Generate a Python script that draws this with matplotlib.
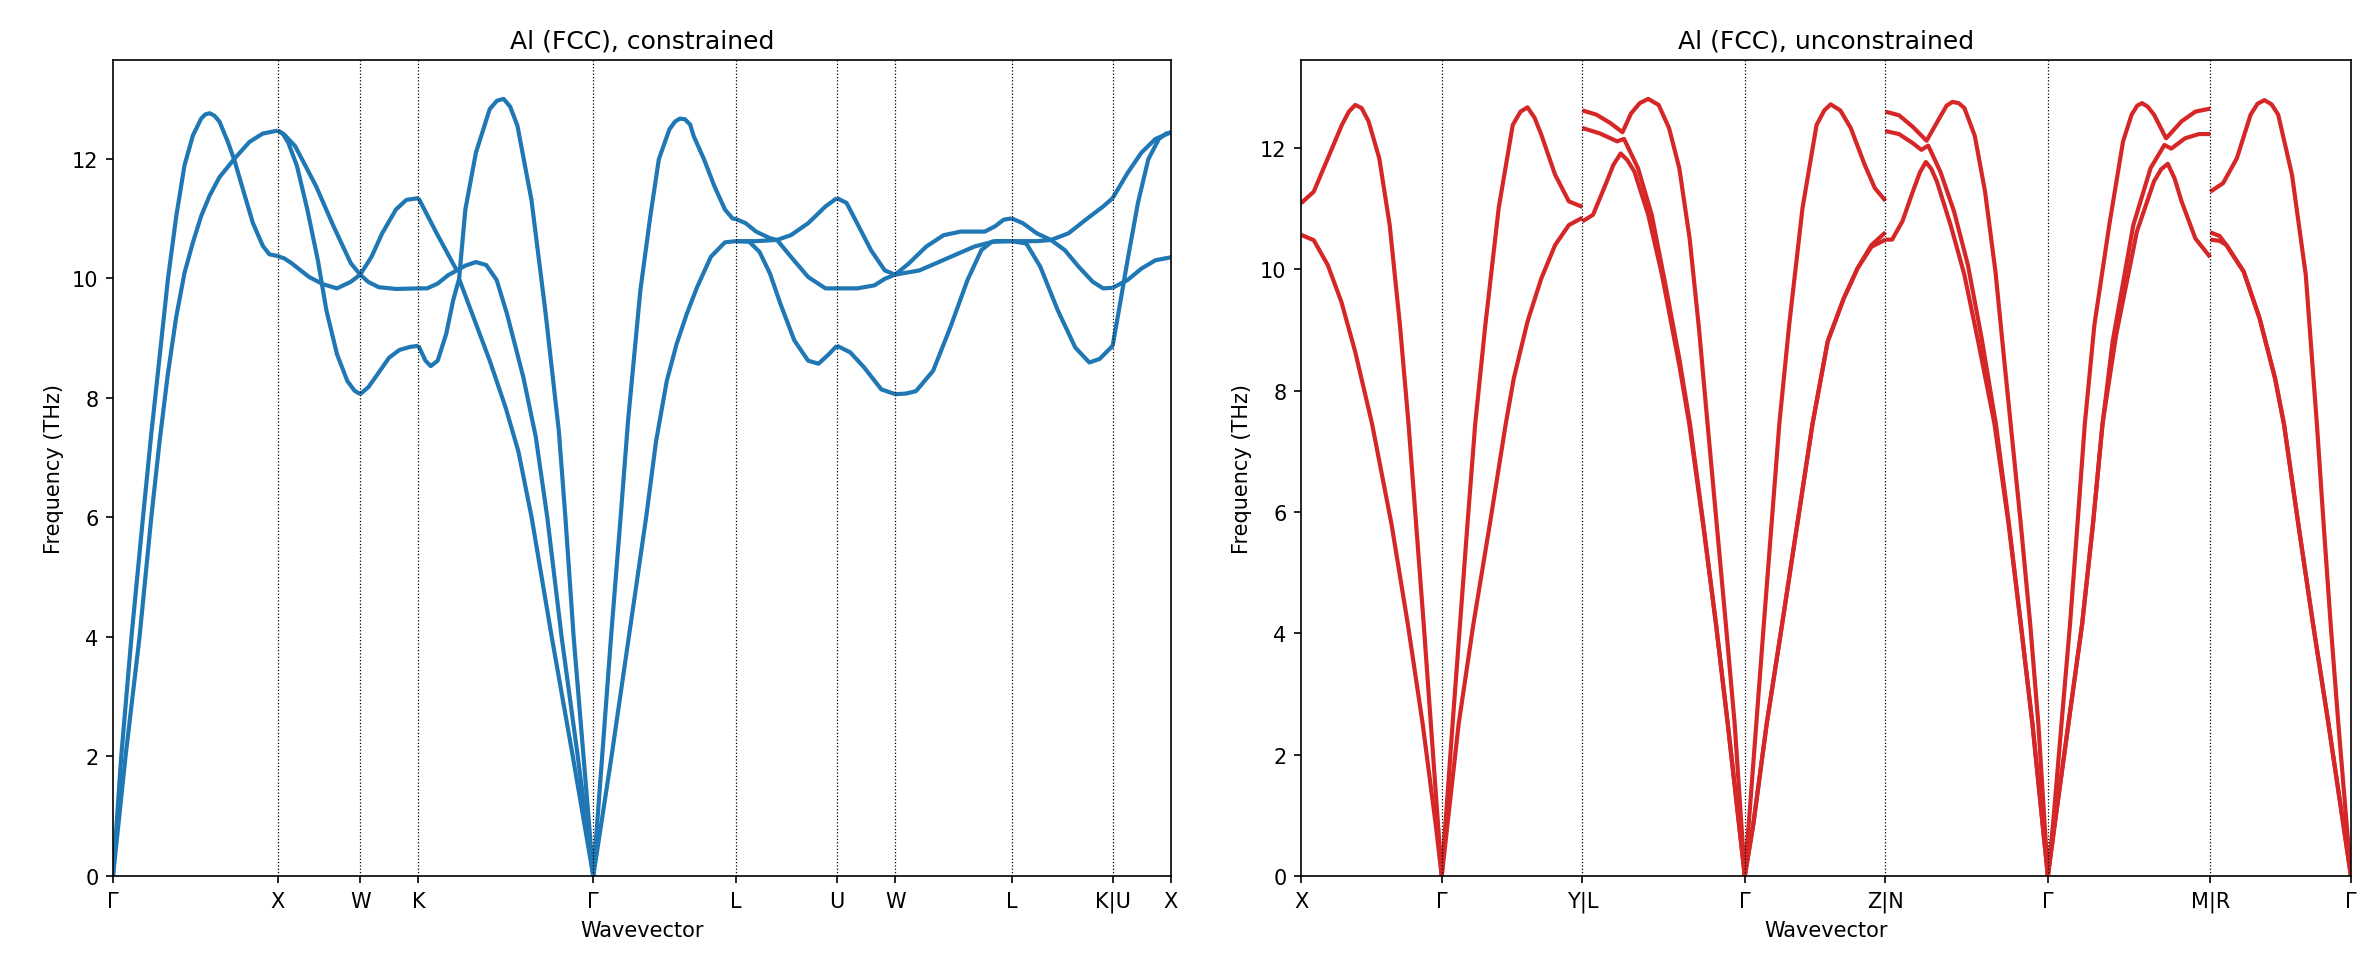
import matplotlib
matplotlib.use("Agg")
import matplotlib.pyplot as plt

# ---------------- left panel: Al (FCC), constrained ----------------
left_ticks = [0.0, 1.0, 1.5, 1.8536, 2.9142, 3.7802, 4.3926, 4.7462, 5.4533, 6.0657, 6.4193]
left_labels = ["Γ", "X", "W", "K", "Γ", "L", "U", "W", "L", "K|U", "X"]

# each entry: (wavevector, frequency in THz)
left_gx = [
    ([0.0, 0.05, 0.112, 0.182, 0.232, 0.283, 0.333, 0.384, 0.434, 0.485, 0.535, 0.56, 0.586, 0.615,
      0.646, 0.697, 0.737, 0.788, 0.848, 0.909, 0.949, 1.0],
     [0.0, 2.0, 4.0, 6.0, 7.39, 8.69, 9.98, 11.04, 11.89, 12.39, 12.67, 12.74, 12.76, 12.72,
      12.62, 12.28, 11.97, 11.49, 10.93, 10.54, 10.40, 10.37]),
    ([0.0, 0.076, 0.161, 0.232, 0.283, 0.333, 0.384, 0.434, 0.485, 0.535, 0.586, 0.646, 0.737, 0.828,
      0.909, 1.0],
     [0.0, 2.0, 4.0, 5.99, 7.28, 8.40, 9.36, 10.09, 10.6, 11.04, 11.38, 11.69, 12.0, 12.28,
      12.42, 12.47]),
]
left_xw = [
    ([1.0, 1.03, 1.063, 1.116, 1.179, 1.243, 1.295, 1.359, 1.422, 1.465, 1.5],
     [12.47, 12.42, 12.27, 11.88, 11.15, 10.30, 9.46, 8.73, 8.28, 8.12, 8.06]),
    ([1.0, 1.04, 1.105, 1.232, 1.338, 1.443, 1.5],
     [12.47, 12.4, 12.21, 11.54, 10.87, 10.25, 10.06]),
    ([1.0, 1.04, 1.084, 1.19, 1.274, 1.359, 1.443, 1.5],
     [10.37, 10.33, 10.25, 10.02, 9.9, 9.83, 9.94, 10.06]),
]
left_wk = [
    ([1.5, 1.55, 1.612, 1.675, 1.738, 1.801, 1.8536],
     [8.06, 8.18, 8.42, 8.67, 8.80, 8.85, 8.87]),
    ([1.5, 1.569, 1.633, 1.717, 1.78, 1.8536],
     [10.06, 10.36, 10.75, 11.15, 11.31, 11.34]),
    ([1.5, 1.548, 1.612, 1.717, 1.8536],
     [10.06, 9.94, 9.85, 9.82, 9.83]),
]
left_kg = [
    ([1.8536, 1.97, 2.086],
     [11.34, 10.72, 10.13]),
    ([1.8536, 1.906, 1.97, 2.033, 2.086, 2.138, 2.202, 2.265, 2.328, 2.391, 2.49, 2.565, 2.635, 2.722,
      2.82, 2.9142],
     [9.83, 9.83, 9.91, 10.05, 10.13, 10.21, 10.27, 10.22, 9.97, 9.40, 8.34, 7.35, 6.0, 4.0,
      2.0, 0.0]),
    ([1.8536, 1.896, 1.928, 1.97, 2.022, 2.064, 2.1, 2.18, 2.286, 2.383, 2.46, 2.54, 2.662, 2.79,
      2.9142],
     [8.87, 8.62, 8.53, 8.62, 9.07, 9.63, 9.99, 9.40, 8.62, 7.83, 7.1, 6.0, 4.0, 2.0, 0.0]),
    ([2.1, 2.138, 2.202, 2.286, 2.33, 2.37, 2.41, 2.454, 2.539, 2.623, 2.705, 2.745, 2.795, 2.855,
      2.9142],
     [9.99, 11.15, 12.1, 12.83, 12.97, 13.0, 12.87, 12.55, 11.31, 9.46, 7.45, 6.0, 4.0, 2.0, 0.0]),
]
left_gl = [
    ([2.9142, 2.968, 3.022, 3.08, 3.125, 3.2, 3.26, 3.312, 3.376, 3.41, 3.439, 3.47, 3.502, 3.523,
      3.586, 3.649, 3.713, 3.759, 3.7802],
     [0.0, 2.0, 4.0, 6.0, 7.61, 9.8, 11.03, 11.99, 12.49, 12.62, 12.67, 12.66, 12.57, 12.38,
      11.99, 11.54, 11.15, 11.0, 10.99]),
    ([2.9142, 3.025, 3.13, 3.235, 3.295, 3.36, 3.42, 3.481, 3.544, 3.628, 3.713, 3.7802],
     [0.0, 2.0, 4.0, 6.0, 7.27, 8.28, 8.9, 9.4, 9.85, 10.36, 10.6, 10.62]),
]
left_lu = [
    ([3.7802, 3.839, 3.902, 3.986, 4.029, 4.113, 4.218, 4.323, 4.3926],
     [10.99, 10.92, 10.78, 10.67, 10.64, 10.36, 10.02, 9.83, 9.83]),
    ([3.7802, 3.902, 4.029, 4.113, 4.218, 4.323, 4.3926],
     [10.62, 10.62, 10.64, 10.72, 10.92, 11.2, 11.34]),
    ([3.7802, 3.86, 3.923, 3.986, 4.05, 4.134, 4.218, 4.281, 4.344, 4.3926],
     [10.62, 10.61, 10.44, 10.08, 9.57, 8.96, 8.62, 8.57, 8.73, 8.87]),
]
left_uw = [
    ([4.3926, 4.451, 4.515, 4.599, 4.683, 4.7462],
     [11.34, 11.26, 10.92, 10.47, 10.13, 10.06]),
    ([4.3926, 4.515, 4.62, 4.683, 4.7462],
     [9.83, 9.83, 9.88, 9.99, 10.06]),
    ([4.3926, 4.473, 4.557, 4.662, 4.7462],
     [8.87, 8.76, 8.51, 8.14, 8.06]),
]
left_wl = [
    ([4.7462, 4.83, 4.935, 5.04, 5.144, 5.29, 5.353, 5.405, 5.4533],
     [10.06, 10.25, 10.53, 10.72, 10.78, 10.78, 10.87, 10.98, 11.0]),
    ([4.7462, 4.893, 5.06, 5.227, 5.353, 5.4533],
     [10.06, 10.13, 10.33, 10.53, 10.62, 10.62]),
    ([4.7462, 4.81, 4.872, 4.976, 5.081, 5.185, 5.269, 5.332, 5.4533],
     [8.06, 8.07, 8.11, 8.45, 9.18, 9.97, 10.47, 10.61, 10.62]),
]
left_lk = [
    ([5.4533, 5.521, 5.606, 5.691, 5.775, 5.86, 5.945, 6.008, 6.0657],
     [11.0, 10.92, 10.75, 10.64, 10.47, 10.19, 9.94, 9.83, 9.84]),
    ([5.4533, 5.606, 5.691, 5.797, 5.903, 6.008, 6.0657],
     [10.62, 10.62, 10.64, 10.75, 10.98, 11.2, 11.34]),
    ([5.4533, 5.542, 5.627, 5.733, 5.839, 5.924, 5.987, 6.0657],
     [10.62, 10.58, 10.19, 9.46, 8.84, 8.59, 8.65, 8.87]),
]
left_ux = [
    ([6.0657, 6.156, 6.24, 6.325, 6.4193],
     [11.34, 11.76, 12.1, 12.33, 12.44]),
    ([6.0657, 6.114, 6.156, 6.219, 6.282, 6.346, 6.39, 6.4193],
     [8.87, 9.63, 10.3, 11.26, 11.99, 12.33, 12.42, 12.44]),
    ([6.0657, 6.156, 6.24, 6.325, 6.4193],
     [9.84, 9.97, 10.16, 10.3, 10.35]),
]

# ---------------- right panel: Al (FCC), unconstrained ----------------
right_ticks = [0.0, 1.0, 2.0, 3.1547, 4.1547, 5.3094, 6.4641, 7.4641]
right_labels = ["X", "Γ", "Y|L", "Γ", "Z|N", "Γ", "M|R", "Γ"]

right_xg = [
    ([0.0, 0.09, 0.19, 0.29, 0.34, 0.385, 0.43, 0.48, 0.556, 0.63, 0.703, 0.764, 0.872, 1.0],
     [11.09, 11.28, 11.83, 12.38, 12.6, 12.71, 12.66, 12.44, 11.83, 10.73, 9.08, 7.45, 4.15, 0.0]),
    ([0.0, 0.09, 0.19, 0.287, 0.385, 0.505, 0.643, 0.759, 0.865, 0.957, 1.0],
     [10.57, 10.48, 10.07, 9.46, 8.64, 7.45, 5.8, 4.15, 2.5, 0.85, 0.0]),
]
right_gy = [
    ([1.0, 1.077, 1.13, 1.183, 1.238, 1.31, 1.405, 1.505, 1.56, 1.61, 1.66, 1.708, 1.806, 1.904, 2.0],
     [0.0, 2.5, 4.15, 5.8, 7.45, 9.08, 11.01, 12.38, 12.6, 12.67, 12.5, 12.22, 11.56, 11.12, 11.03]),
    ([1.0, 1.12, 1.225, 1.342, 1.455, 1.512, 1.61, 1.708, 1.806, 1.904, 2.0],
     [0.0, 2.5, 4.15, 5.8, 7.45, 8.2, 9.14, 9.85, 10.4, 10.73, 10.85]),
]
right_lg = [
    ([2.0, 2.1, 2.2, 2.285, 2.346, 2.408, 2.468, 2.542, 2.616, 2.689, 2.763, 2.83, 2.89, 2.955,
      3.02, 3.083, 3.1547],
     [12.62, 12.55, 12.41, 12.26, 12.57, 12.74, 12.81, 12.71, 12.33, 11.67, 10.5, 9.0, 7.45, 5.8,
      4.15, 2.5, 0.0]),
    ([2.0, 2.125, 2.247, 2.296, 2.395, 2.493, 2.591, 2.689, 2.765, 2.86, 2.95, 3.034, 3.1547],
     [12.33, 12.24, 12.11, 12.15, 11.67, 10.9, 9.74, 8.53, 7.45, 5.8, 4.15, 2.5, 0.0]),
    ([2.0, 2.076, 2.174, 2.22, 2.272, 2.32, 2.37, 2.468, 2.566, 2.689, 2.76, 2.858, 2.95, 3.034,
      3.1547],
     [10.79, 10.9, 11.45, 11.72, 11.91, 11.8, 11.61, 10.9, 9.91, 8.42, 7.45, 5.8, 4.15, 2.5, 0.0]),
]
right_gz = [
    ([3.1547, 3.29, 3.40, 3.47, 3.565, 3.665, 3.72, 3.765, 3.834, 3.908, 4.006, 4.079, 4.1547],
     [0.0, 4.15, 7.45, 9.08, 11.01, 12.38, 12.62, 12.72, 12.62, 12.33, 11.73, 11.34, 11.13]),
    ([3.1547, 3.215, 3.31, 3.42, 3.528, 3.636, 3.744, 3.858, 3.957, 4.055, 4.1547],
     [0.0, 0.85, 2.5, 4.15, 5.8, 7.45, 8.81, 9.52, 10.02, 10.4, 10.61]),
    ([3.1547, 3.215, 3.31, 3.42, 3.528, 3.636, 3.744, 3.858, 3.957, 4.055, 4.1547],
     [0.0, 0.85, 2.5, 4.15, 5.8, 7.45, 8.81, 9.52, 10.02, 10.37, 10.49]),
]
right_ng = [
    ([4.1547, 4.251, 4.349, 4.447, 4.545, 4.59, 4.631, 4.675, 4.716, 4.79, 4.863, 4.937, 4.998,
      5.045, 5.117, 5.184, 5.242, 5.3094],
     [12.6, 12.54, 12.35, 12.12, 12.52, 12.7, 12.76, 12.74, 12.66, 12.2, 11.28, 9.96, 8.53,
      7.45, 5.8, 4.15, 2.5, 0.0]),
    ([4.1547, 4.251, 4.349, 4.41, 4.459, 4.545, 4.643, 4.741, 4.839, 4.94, 5.033, 5.117, 5.2, 5.3094],
     [12.28, 12.23, 12.08, 11.97, 12.04, 11.61, 10.95, 10.07, 8.86, 7.45, 5.8, 4.15, 2.5, 0.0]),
    ([4.1547, 4.202, 4.275, 4.349, 4.40, 4.442, 4.48, 4.52, 4.618, 4.716, 4.814, 4.93, 5.03, 5.117,
      5.2, 5.3094],
     [10.49, 10.49, 10.79, 11.28, 11.6, 11.77, 11.66, 11.45, 10.73, 9.91, 8.81, 7.45, 5.8, 4.15,
      2.5, 0.0]),
]
right_gm = [
    ([5.3094, 5.346, 5.406, 5.467, 5.52, 5.572, 5.64, 5.746, 5.844, 5.905, 5.945, 5.979, 6.02,
      6.064, 6.15, 6.26, 6.358, 6.4641],
     [0.0, 0.85, 2.5, 4.15, 5.8, 7.45, 9.08, 10.73, 12.11, 12.55, 12.7, 12.74, 12.68,
      12.55, 12.16, 12.44, 12.6, 12.65]),
    ([5.3094, 5.358, 5.455, 5.553, 5.63, 5.698, 5.77, 5.917, 6.04, 6.138, 6.187, 6.285, 6.383, 6.4641],
     [0.0, 0.85, 2.5, 4.15, 5.8, 7.45, 8.81, 10.73, 11.67, 12.05, 11.99, 12.16, 12.23, 12.23]),
    ([5.3094, 5.358, 5.455, 5.553, 5.63, 5.698, 5.795, 5.942, 6.064, 6.115, 6.162, 6.21, 6.26,
      6.358, 6.4641],
     [0.0, 0.85, 2.5, 4.15, 5.8, 7.45, 8.92, 10.62, 11.45, 11.65, 11.74, 11.5, 11.12,
      10.51, 10.2]),
]
right_rg = [
    ([6.4641, 6.555, 6.653, 6.751, 6.8, 6.849, 6.9, 6.947, 7.045, 7.143, 7.222, 7.27, 7.32, 7.375,
      7.4641],
     [11.28, 11.42, 11.83, 12.55, 12.73, 12.79, 12.72, 12.55, 11.56, 9.91, 7.45, 5.8, 4.15, 2.5,
      0.0]),
    ([6.4641, 6.53, 6.579, 6.702, 6.815, 6.925, 6.988, 7.09, 7.195, 7.305, 7.4641],
     [10.61, 10.55, 10.4, 9.96, 9.19, 8.2, 7.45, 5.8, 4.15, 2.5, 0.0]),
    ([6.4641, 6.53, 6.579, 6.702, 6.815, 6.925, 6.988, 7.09, 7.195, 7.305, 7.4641],
     [10.49, 10.47, 10.4, 9.96, 9.19, 8.2, 7.45, 5.8, 4.15, 2.5, 0.0]),
]

left_segments = [left_gx, left_xw, left_wk, left_kg, left_gl, left_lu, left_uw, left_wl, left_lk, left_ux]
right_segments = [right_xg, right_gy, right_lg, right_gz, right_ng, right_gm, right_rg]


def draw_bands(ax, segments, ticks, labels, color, title):
    top = 0.0
    for seg in segments:
        for q, f in seg:
            ax.plot(q, f, color=color, lw=2, solid_joinstyle="round", solid_capstyle="butt")
            top = max(top, max(f))
    # dotted guides at the high-symmetry points
    for t in ticks[1:-1]:
        ax.axvline(t, color="k", ls=":", lw=0.6)
    ax.set_xlim(ticks[0], ticks[-1])
    ax.set_ylim(0, top * 1.05)
    ax.set_xticks(ticks)
    ax.set_xticklabels(labels)
    ax.set_xlabel("Wavevector")
    ax.set_ylabel("Frequency (THz)")
    ax.set_title(title)


fig = plt.figure(figsize=(15.86, 6.52), dpi=150)
ax1 = fig.add_axes([0.0475, 0.1033, 0.4447, 0.8343])
ax2 = fig.add_axes([0.5469, 0.1033, 0.4413, 0.8343])

draw_bands(ax1, left_segments, left_ticks, left_labels, "tab:blue", "Al (FCC), constrained")
draw_bands(ax2, right_segments, right_ticks, right_labels, "tab:red", "Al (FCC), unconstrained")

fig.savefig("out.png", dpi=150)
